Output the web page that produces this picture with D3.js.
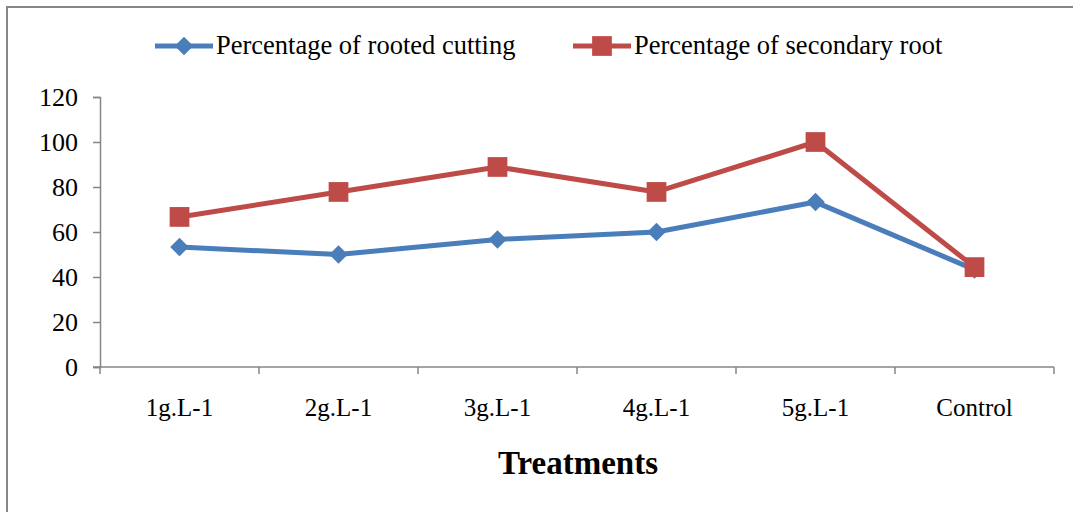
<!DOCTYPE html>
<html>
<head>
<meta charset="utf-8">
<script src="https://cdn.jsdelivr.net/npm/d3@7"></script>
<style>
  html, body { margin: 0; padding: 0; background: #fff; }
</style>
</head>
<body>
<svg id="chart" width="1073" height="512"></svg>
<script>
// Treatments along the x axis
const categories = ["1g.L-1", "2g.L-1", "3g.L-1", "4g.L-1", "5g.L-1", "Control"];
// Percentage of rooted cutting
const rootedCutting = [53.3, 50, 56.7, 60, 73.3, 43.3];
// Percentage of secondary root
const secondaryRoot = [66.7, 77.8, 88.9, 77.8, 100, 44.4];
// Y axis ticks
const yTicks = [0, 20, 40, 60, 80, 100, 120];

const seriesNames = ["Percentage of rooted cutting", "Percentage of secondary root"];
const colors = ["#4a7ebb", "#be4b48"];

const svg = d3.select("#chart");
const W = 1073, H = 512;
const margin = { left: 100, right: 19, top: 97, bottom: 145 };
const serif = "Liberation Serif";

// outer frame
svg.append("rect")
  .attr("x", 7).attr("y", 7)
  .attr("width", W + 10).attr("height", H + 10)
  .attr("fill", "none").attr("stroke", "#878787").attr("stroke-width", 2);

const x = d3.scaleBand().domain(categories)
  .range([margin.left, W - margin.right]).paddingInner(0).paddingOuter(0);
const y = d3.scaleLinear().domain([0, 120])
  .range([H - margin.bottom, margin.top]);

const axisColor = "#868686";

// y axis
const yAxis = svg.append("g")
  .attr("transform", `translate(${margin.left},0)`)
  .call(d3.axisLeft(y).tickValues(yTicks).tickSize(7).tickPadding(15).tickFormat(d3.format("d")));
yAxis.attr("font-family", serif);
yAxis.select(".domain").attr("stroke", axisColor).attr("stroke-width", 1.5);
yAxis.selectAll(".tick line").attr("stroke", axisColor).attr("stroke-width", 1.5);
yAxis.selectAll(".tick text")
  .attr("fill", "#000").attr("font-family", serif).attr("font-size", 26);

// x axis with ticks on the band boundaries
const xAxisG = svg.append("g")
  .attr("transform", `translate(0,${y(0)})`);
xAxisG.append("line")
  .attr("x1", margin.left - 7).attr("x2", W - margin.right)
  .attr("stroke", axisColor).attr("stroke-width", 1.5);
const boundaries = categories.map(c => x(c)).concat([x(categories[categories.length - 1]) + x.bandwidth()]);
xAxisG.selectAll("line.tk").data(boundaries).join("line")
  .attr("class", "tk")
  .attr("x1", d => d).attr("x2", d => d)
  .attr("y1", 0).attr("y2", 7)
  .attr("stroke", axisColor).attr("stroke-width", 1.5);
xAxisG.selectAll("text.lbl").data(categories).join("text")
  .attr("class", "lbl")
  .attr("x", d => x(d) + x.bandwidth() / 2)
  .attr("y", 49)
  .attr("text-anchor", "middle")
  .attr("font-family", serif)
  .attr("font-size", 25)
  .text(d => d);

// x axis title
svg.append("text")
  .attr("x", 578).attr("y", 474)
  .attr("text-anchor", "middle")
  .attr("font-family", serif)
  .attr("font-size", 33).attr("font-weight", "bold")
  .text("Treatments");

const cx = d => x(d) + x.bandwidth() / 2;
const line = d3.line().x(d => cx(d.c)).y(d => y(d.v));

const seriesData = [rootedCutting, secondaryRoot].map(vals =>
  vals.map((v, i) => ({ c: categories[i], v })));

// lines
seriesData.forEach((s, k) => {
  svg.append("path")
    .datum(s)
    .attr("d", line)
    .attr("fill", "none")
    .attr("stroke", colors[k])
    .attr("stroke-width", 5)
    .attr("stroke-linejoin", "round");
});

const diamond = d3.symbol().type(d3.symbolDiamond2).size(220);
const square = d3.symbol().type(d3.symbolSquare).size(390);

// markers: diamonds for rooted cutting, squares for secondary root
svg.append("g").selectAll("path").data(seriesData[0]).join("path")
  .attr("transform", d => `translate(${cx(d.c)},${y(d.v)})`)
  .attr("d", diamond)
  .attr("fill", colors[0]);
svg.append("g").selectAll("path").data(seriesData[1]).join("path")
  .attr("transform", d => `translate(${cx(d.c)},${y(d.v)})`)
  .attr("d", square)
  .attr("fill", colors[1]);

// legend
const legend = svg.append("g");
const legendItems = [
  { x: 155, name: seriesNames[0], color: colors[0], sym: diamond },
  { x: 573, name: seriesNames[1], color: colors[1], sym: square }
];
legendItems.forEach(it => {
  const g = legend.append("g").attr("transform", `translate(${it.x},46)`);
  g.append("line").attr("x1", 0).attr("x2", 58)
    .attr("stroke", it.color).attr("stroke-width", 5);
  g.append("path").attr("transform", "translate(29,0)").attr("d", it.sym).attr("fill", it.color);
  g.append("text").attr("x", 61).attr("y", 8)
    .attr("font-family", serif)
    .attr("font-size", 26.5).text(it.name);
});
</script>
</body>
</html>
